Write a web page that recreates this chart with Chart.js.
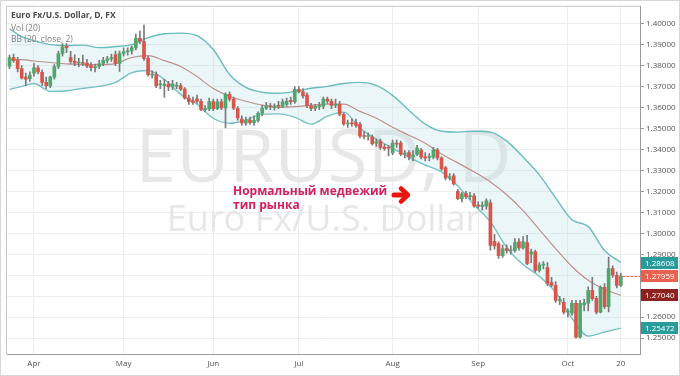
<!DOCTYPE html>
<html><head><meta charset="utf-8">
<script src="https://cdn.jsdelivr.net/npm/chart.js@4"></script>
<style>html,body{margin:0;padding:0;background:#fff;overflow:hidden}#wrap{position:relative;width:680px;height:376px}</style>
</head><body><div id="wrap"><canvas id="c" width="680" height="376"></canvas></div>
<script>
// Daily EUR/USD, 24 Mar – 20 Oct 2014 (one entry per weekday)
const dates = ['03-24','03-25','03-26','03-27','03-28','03-31',
'04-01','04-02','04-03','04-04','04-07','04-08','04-09','04-10','04-11','04-14','04-15','04-16','04-17','04-18','04-21','04-22','04-23','04-24','04-25','04-28','04-29','04-30',
'05-01','05-02','05-05','05-06','05-07','05-08','05-09','05-12','05-13','05-14','05-15','05-16','05-19','05-20','05-21','05-22','05-23','05-26','05-27','05-28','05-29','05-30',
'06-02','06-03','06-04','06-05','06-06','06-09','06-10','06-11','06-12','06-13','06-16','06-17','06-18','06-19','06-20','06-23','06-24','06-25','06-26','06-27','06-30',
'07-01','07-02','07-03','07-04','07-07','07-08','07-09','07-10','07-11','07-14','07-15','07-16','07-17','07-18','07-21','07-22','07-23','07-24','07-25','07-28','07-29','07-30','07-31',
'08-01','08-04','08-05','08-06','08-07','08-08','08-11','08-12','08-13','08-14','08-15','08-18','08-19','08-20','08-21','08-22','08-25','08-26','08-27','08-28','08-29',
'09-01','09-02','09-03','09-04','09-05','09-08','09-09','09-10','09-11','09-12','09-15','09-16','09-17','09-18','09-19','09-22','09-23','09-24','09-25','09-26','09-29','09-30',
'10-01','10-02','10-03','10-06','10-07','10-08','10-09','10-10','10-13','10-14','10-15','10-16','10-17','10-20'];

const opens = [1.3797,1.3838,1.3824,1.3786,1.3745,1.3738,
1.3764,1.3790,1.3768,1.3720,1.3703,1.3745,1.3796,1.3858,1.3892,1.3838,1.3820,1.3812,1.3815,1.3812,1.3800,1.3790,1.3796,1.3810,1.3825,1.3832,1.3852,1.3810,
1.3858,1.3866,1.3870,1.3885,1.3930,1.3915,1.3835,1.3755,1.3757,1.3708,1.3705,1.3712,1.3698,1.3702,1.3705,1.3688,1.3645,1.3632,1.3642,1.3630,1.3590,1.3592,
1.3628,1.3595,1.3627,1.3598,1.3663,1.3640,1.3595,1.3545,1.3525,1.3540,1.3528,1.3538,1.3573,1.3597,1.3606,1.3600,1.3608,1.3606,1.3615,1.3635,1.3628,
1.3687,1.3675,1.3660,1.3608,1.3596,1.3606,1.3606,1.3640,1.3630,1.3610,1.3615,1.3568,1.3522,1.3524,1.3528,1.3520,1.3464,1.3462,1.3460,1.3430,1.3440,1.3412,1.3408,
1.3385,1.3430,1.3430,1.3378,1.3385,1.3365,1.3378,1.3397,1.3363,1.3362,1.3363,1.3397,1.3360,1.3312,1.3264,1.3274,1.3200,1.3165,1.3190,1.3175,1.3179,
1.3131,1.3128,1.3130,1.3146,1.2962,1.2951,1.2894,1.2927,1.2917,1.2917,1.2960,1.2930,1.2956,1.2900,1.2912,1.2823,1.2848,1.2837,1.2765,1.2752,1.2680,1.2671,
1.2624,1.2619,1.2666,1.2505,1.2658,1.2666,1.2728,1.2690,1.2624,1.2742,1.2650,1.2832,1.2800,1.2752];

const highs = [1.3850,1.3855,1.3840,1.3800,1.3765,1.3770,
1.3810,1.3800,1.3780,1.3745,1.3750,1.3805,1.3870,1.3905,1.3905,1.3868,1.3852,1.3835,1.3850,1.3830,1.3815,1.3808,1.3825,1.3840,1.3845,1.3855,1.3870,1.3870,
1.3885,1.3885,1.3895,1.3950,1.3965,1.3993,1.3845,1.3775,1.3770,1.3730,1.3735,1.3725,1.3730,1.3720,1.3715,1.3695,1.3660,1.3650,1.3660,1.3640,1.3610,1.3645,
1.3640,1.3640,1.3640,1.3670,1.3675,1.3650,1.3605,1.3560,1.3555,1.3555,1.3560,1.3580,1.3612,1.3625,1.3620,1.3618,1.3630,1.3640,1.3645,1.3650,1.3700,
1.3700,1.3690,1.3670,1.3620,1.3615,1.3625,1.3650,1.3650,1.3640,1.3640,1.3630,1.3575,1.3540,1.3545,1.3545,1.3530,1.3485,1.3480,1.3470,1.3450,1.3450,1.3425,1.3420,
1.3445,1.3445,1.3440,1.3395,1.3395,1.3395,1.3420,1.3405,1.3385,1.3380,1.3410,1.3405,1.3365,1.3320,1.3285,1.3285,1.3210,1.3195,1.3200,1.3195,1.3190,
1.3150,1.3150,1.3165,1.3160,1.2995,1.2960,1.2945,1.2945,1.2940,1.2975,1.2975,1.2985,1.2990,1.2925,1.2920,1.2860,1.2865,1.2860,1.2790,1.2770,1.2700,1.2690,
1.2640,1.2680,1.2680,1.2680,1.2685,1.2745,1.2790,1.2700,1.2750,1.2760,1.2887,1.2845,1.2815,1.2810];

const lows = [1.3785,1.3815,1.3770,1.3735,1.3704,1.3725,
1.3750,1.3760,1.3705,1.3690,1.3695,1.3735,1.3785,1.3845,1.3862,1.3810,1.3800,1.3795,1.3800,1.3790,1.3775,1.3770,1.3785,1.3800,1.3812,1.3820,1.3800,1.3772,
1.3845,1.3850,1.3855,1.3875,1.3905,1.3825,1.3750,1.3740,1.3695,1.3690,1.3650,1.3680,1.3685,1.3690,1.3680,1.3640,1.3615,1.3615,1.3620,1.3585,1.3580,1.3585,
1.3585,1.3590,1.3590,1.3503,1.3630,1.3590,1.3540,1.3515,1.3515,1.3520,1.3515,1.3530,1.3560,1.3590,1.3590,1.3588,1.3595,1.3600,1.3605,1.3615,1.3620,
1.3670,1.3645,1.3600,1.3585,1.3585,1.3590,1.3595,1.3620,1.3595,1.3600,1.3560,1.3515,1.3505,1.3510,1.3505,1.3455,1.3450,1.3445,1.3420,1.3415,1.3400,1.3395,1.3370,
1.3375,1.3410,1.3370,1.3360,1.3350,1.3345,1.3370,1.3355,1.3345,1.3345,1.3355,1.3350,1.3300,1.3255,1.3255,1.3230,1.3160,1.3150,1.3165,1.3160,1.3125,
1.3120,1.3110,1.3115,1.2920,1.2925,1.2880,1.2885,1.2905,1.2900,1.2910,1.2920,1.2925,1.2850,1.2860,1.2815,1.2815,1.2830,1.2750,1.2745,1.2670,1.2660,1.2615,
1.2600,1.2610,1.2500,1.2500,1.2630,1.2630,1.2680,1.2615,1.2620,1.2640,1.2625,1.2790,1.2740,1.2745];

const closes = [1.3838,1.3824,1.3786,1.3742,1.3736,1.3755,
1.3790,1.3770,1.3720,1.3705,1.3745,1.3796,1.3858,1.3890,1.3886,1.3820,1.3812,1.3815,1.3810,1.3798,1.3790,1.3796,1.3810,1.3825,1.3832,1.3838,1.3810,1.3858,
1.3866,1.3870,1.3885,1.3930,1.3915,1.3835,1.3757,1.3760,1.3705,1.3712,1.3712,1.3698,1.3712,1.3706,1.3688,1.3645,1.3628,1.3625,1.3630,1.3590,1.3592,1.3628,
1.3595,1.3627,1.3598,1.3663,1.3640,1.3597,1.3550,1.3527,1.3540,1.3528,1.3540,1.3573,1.3597,1.3608,1.3604,1.3608,1.3606,1.3627,1.3630,1.3628,1.3687,
1.3675,1.3655,1.3608,1.3596,1.3606,1.3610,1.3640,1.3630,1.3610,1.3615,1.3568,1.3522,1.3525,1.3522,1.3515,1.3464,1.3462,1.3464,1.3428,1.3436,1.3410,1.3404,1.3406,
1.3430,1.3425,1.3378,1.3380,1.3365,1.3375,1.3407,1.3363,1.3360,1.3362,1.3397,1.3360,1.3307,1.3264,1.3270,1.3236,1.3165,1.3188,1.3175,1.3178,1.3131,
1.3130,1.3135,1.3155,1.2942,1.2940,1.2894,1.2927,1.2917,1.2920,1.2956,1.2930,1.2960,1.2856,1.2912,1.2823,1.2848,1.2852,1.2761,1.2753,1.2680,1.2685,1.2624,
1.2628,1.2666,1.2505,1.2666,1.2668,1.2728,1.2688,1.2624,1.2742,1.2650,1.2832,1.2800,1.2752,1.2796];

const bbIndex  = [0,3,6,10,14,18,22,26,30,34,38,42,46,50,54,58,62,66,70,74,78,82,86,90,94,98,102,106,110,114,118,122,126,130,134,138,142,146,150];
const bbUpper  = [1.3976,1.3938,1.3919,1.3900,1.3896,1.3898,1.3886,1.3891,1.3900,1.3934,1.3952,1.3955,1.3943,1.3877,1.3758,1.3696,1.3673,1.3668,1.3677,1.3692,1.3701,1.3715,1.3720,1.3706,1.3658,1.3587,1.3521,1.3487,1.3483,1.3487,1.3483,1.3440,1.3364,1.3279,1.3169,1.3065,1.3032,1.2918,1.2861];
const bbMiddle = [1.3829,1.3829,1.3822,1.3815,1.3808,1.3805,1.3805,1.3810,1.3839,1.3848,1.3824,1.3796,1.3748,1.3691,1.3654,1.3630,1.3611,1.3601,1.3604,1.3611,1.3616,1.3616,1.3582,1.3549,1.3506,1.3468,1.3430,1.3378,1.3336,1.3293,1.3245,1.3184,1.3108,1.3018,1.2927,1.2842,1.2776,1.2733,1.2704];
const bbLower  = [1.3687,1.3701,1.3715,1.3677,1.3680,1.3692,1.3701,1.3720,1.3767,1.3777,1.3734,1.3663,1.3616,1.3549,1.3525,1.3540,1.3568,1.3570,1.3554,1.3521,1.3559,1.3578,1.3502,1.3449,1.3407,1.3364,1.3326,1.3293,1.3226,1.3136,1.3055,1.2932,1.2851,1.2795,1.2719,1.2595,1.2510,1.2529,1.2548];

const monthTickIndex  = [6,28,50,71,94,115,137,150];
const monthTickLabels = ['Apr','May','Jun','Jul','Aug','Sep','Oct','20'];
const priceTicks = [1.25,1.26,1.27,1.28,1.29,1.30,1.31,1.32,1.33,1.34,1.35,1.36,1.37,1.38,1.39,1.40];
const tagValues = [1.28608,1.27959,1.27040,1.25472];
const tagColors = ['#2a9b9b','#e5634f','#8e2020','#2a9b9b'];

const bodyData = closes.map((c,i)=>({x:i, y:[Math.min(opens[i],c), Math.max(opens[i],c)]}));
const wickData = closes.map((c,i)=>({x:i, y:[lows[i], highs[i]]}));
const bodyColors = closes.map((c,i)=> c>=opens[i] ? '#50a66c' : '#d9554a');
const bbPts = arr => bbIndex.map((x,k)=>({x:x, y:arr[k]}));

const decor = {
  id:'decor',
  beforeDraw(chart){
    const c = chart.ctx;
    c.save();
    c.fillStyle='#fff'; c.fillRect(0,0,680,376);
    c.strokeStyle='#d6d6d6'; c.lineWidth=1; c.strokeRect(0.5,0.5,679,375);
    c.restore();
  },
  beforeDatasetsDraw(chart){
    const c = chart.ctx, a = chart.chartArea;
    const cx = (a.left + a.right)/2;
    c.save();
    c.fillStyle='#e7e7e7'; c.textAlign='center'; c.textBaseline='alphabetic';
    c.font='73px "Open Sans"'; c.fillText('EURUSD, D', cx, 182);
    c.font='36px "Open Sans"'; c.fillText('Euro Fx/U.S. Dollar', cx, 231);
    c.restore();
  },
  afterDatasetsDraw(chart){
    const c = chart.ctx, a = chart.chartArea, y = chart.scales.y, x = chart.scales.x;
    c.save();
    // frame left/top
    c.strokeStyle='#c8c8c8'; c.lineWidth=1;
    c.beginPath(); c.moveTo(a.left-0.5, a.bottom); c.lineTo(a.left-0.5, a.top-0.5); c.lineTo(a.right, a.top-0.5); c.stroke();
    // legend texts
    c.textAlign='left'; c.textBaseline='middle';
    c.fillStyle='#4a4a4a'; c.font='bold 8.5px "Open Sans"'; c.fillText('Euro Fx/U.S. Dollar, D, FX', 11, 16);
    c.fillStyle='#808080'; c.font='8.5px "Open Sans"';
    c.fillText('Vol (20)', 11, 29); c.fillText('BB (20, close, 2)', 11, 40);
    // annotation
    c.fillStyle='#d41f59'; c.font='bold 12px "Open Sans"'; c.textBaseline='alphabetic';
    c.fillText('Нормальный медвежий', 233, 195);
    c.fillText('тип рынка', 233, 209);
    // arrow
    c.strokeStyle='#e8160e'; c.lineCap='round'; c.lineJoin='round';
    c.lineWidth=5; c.beginPath(); c.moveTo(394,195); c.lineTo(406,195); c.stroke();
    c.lineWidth=4.5; c.beginPath(); c.moveTo(401,188.5); c.lineTo(408,195); c.lineTo(401,201.5); c.stroke();
    // last price dotted line
    const lastY = y.getPixelForValue(closes[closes.length-1]);
    c.strokeStyle='#e5634f'; c.lineWidth=1; c.setLineDash([2,2]);
    c.beginPath(); c.moveTo(x.getPixelForValue(closes.length-1)+2, Math.round(lastY)+0.5); c.lineTo(a.right, Math.round(lastY)+0.5); c.stroke();
    c.setLineDash([]);
    // price tags
    c.font='8px "Open Sans"'; c.textBaseline='middle'; c.textAlign='left';
    tagValues.forEach((v,k)=>{
      const py = Math.round(y.getPixelForValue(v));
      c.fillStyle = tagColors[k];
      c.fillRect(a.right+1, py-6, 37, 12);
      c.fillStyle='#fff';
      c.fillText(v.toFixed(5), a.right+5, py+0.5);
    });
    c.restore();
  }
};

new Chart(document.getElementById('c').getContext('2d'), {
  type:'bar',
  data:{datasets:[
    {type:'line', data:bbPts(bbUpper), borderColor:'#6bbcbe', borderWidth:1.4, pointRadius:0, cubicInterpolationMode:'monotone', fill:'+1', backgroundColor:'rgba(190,226,234,0.3)', order:5},
    {type:'line', data:bbPts(bbLower), borderColor:'#6bbcbe', borderWidth:1.4, pointRadius:0, cubicInterpolationMode:'monotone', fill:false, order:5},
    {type:'line', data:bbPts(bbMiddle), borderColor:'#c0908a', borderWidth:1.2, pointRadius:0, cubicInterpolationMode:'monotone', fill:false, order:4},
    {data:wickData, backgroundColor:'#7a7a7a', barThickness:1, grouped:false, order:2},
    {data:bodyData, backgroundColor:bodyColors, barThickness:3, minBarLength:1, grouped:false, order:1}
  ]},
  options:{
    animation:false, responsive:false, maintainAspectRatio:false, events:[],
    layout:{padding:{left:7, top:5, right:0, bottom:0}},
    plugins:{legend:{display:false}, tooltip:{enabled:false}},
    scales:{
      x:{type:'linear', min:-0.613, max:154.7, offset:false,
         grid:{color:'#ececec', drawTicks:false, offset:false},
         border:{display:true, color:'#9a9a9a'},
         afterBuildTicks:s=>{s.ticks = monthTickIndex.map(v=>({value:v}));},
         afterFit:s=>{s.height=22;},
         ticks:{autoSkip:false, maxRotation:0, padding:5, color:'#555', font:{family:'"Open Sans"', size:8},
                callback:(v)=>monthTickLabels[monthTickIndex.indexOf(v)]}},
      y:{position:'right', min:1.24243, max:1.40807,
         grid:{color:'#ededed', tickLength:4, tickColor:'#999'},
         border:{display:true, color:'#9a9a9a'},
         afterBuildTicks:s=>{s.ticks = priceTicks.map(v=>({value:v}));},
         afterFit:s=>{s.width=40;},
         ticks:{padding:2, color:'#555', font:{family:'"Open Sans"', size:8}, callback:(v)=>Number(v).toFixed(5)}}
    }
  },
  plugins:[decor]
});
</script></body></html>
